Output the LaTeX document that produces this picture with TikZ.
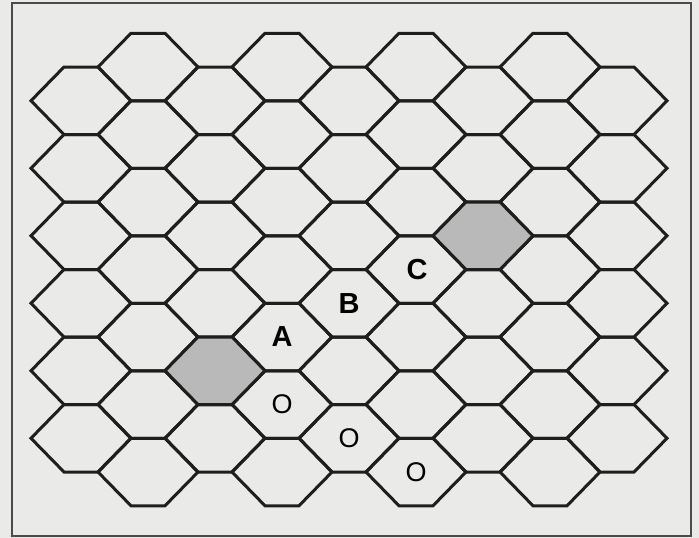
\documentclass[tikz,border=0pt]{standalone}
\usepackage{fontspec}
\setmainfont{Liberation Sans}
\usepackage{tikz}
\usetikzlibrary{positioning}
\usepackage{xcolor}
\definecolor{paper}{RGB}{234,234,232}
\definecolor{inkline}{RGB}{30,30,30}
\definecolor{dotgray}{RGB}{185,185,185}

\begin{document}
\begin{tikzpicture}[
    x=1pt, y=-1pt,
    hexcell/.style={draw=inkline, line width=3pt, line join=miter},
    shadecell/.style={hexcell, fill=dotgray},
    lbl/.style={font=\fontsize{29}{34}\selectfont\bfseries},
    olbl/.style={font=\fontsize{27}{32}\selectfont}
]
    \useasboundingbox (0,0) rectangle (699,538);
    \fill[paper] (0,0) rectangle (699,538);
    \draw[inkline!80, line width=2.5pt] (12,3) rectangle (691,536);

    % Spalten mit 6 Feldern
    \foreach \c in {0,2,...,8}
      \foreach \k in {0,...,5}
        \draw[hexcell] ({31+67*\c},{100.75+67.5*\k}) -- ++(33,-33.75) -- ++(34,0)
          -- ++(33,33.75) -- ++(-33,33.75) -- ++(-34,0) -- cycle;

    % Spalten mit 7 Feldern
    \foreach \c in {1,3,...,7}
      \foreach \k in {0,...,6}
        \draw[hexcell] ({31+67*\c},{67+67.5*\k}) -- ++(33,-33.75) -- ++(34,0)
          -- ++(33,33.75) -- ++(-33,33.75) -- ++(-34,0) -- cycle;

    % besetzte Felder
    \draw[shadecell] (165,370.75) -- ++(33,-33.75) -- ++(34,0)
      -- ++(33,33.75) -- ++(-33,33.75) -- ++(-34,0) -- cycle;
    \draw[shadecell] (433,235.75) -- ++(33,-33.75) -- ++(34,0)
      -- ++(33,33.75) -- ++(-33,33.75) -- ++(-34,0) -- cycle;

    % Beschriftung
    \node[lbl] (fa) at (282,337) {A};
    \node[lbl] (fb) at (349,303.25) {B};
    \node[lbl] (fc) at (417,270) {C};
    \node[olbl] (o1) at (282,404.5) {O};
    \node[olbl] (o2) at (349,438.25) {O};
    \node[olbl] (o3) at (416,472) {O};
\end{tikzpicture}
\end{document}
